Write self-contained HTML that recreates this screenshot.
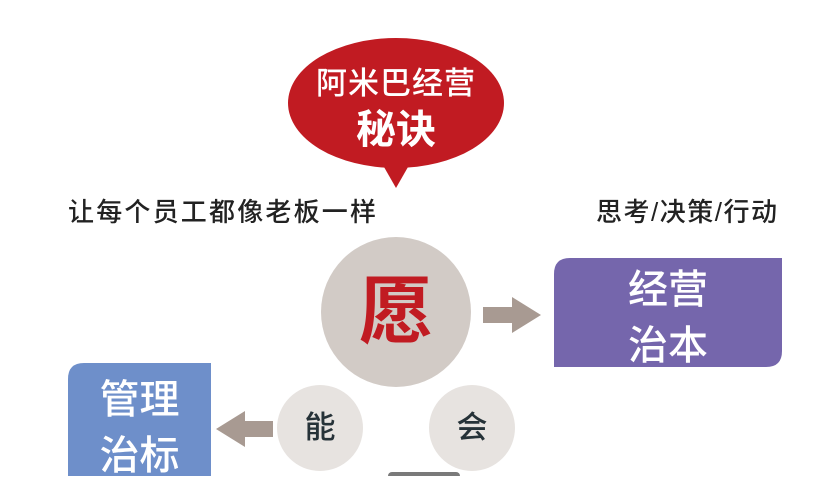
<!DOCTYPE html>
<html><head><meta charset="utf-8"><style>
html,body{margin:0;padding:0;background:#fff;}
body{width:819px;height:476px;position:relative;overflow:hidden;font-family:"Liberation Sans","Noto Sans CJK SC",sans-serif;}
.a{position:absolute;white-space:nowrap;}
</style></head><body>
<svg class="a" style="left:0;top:0" width="819" height="476">
<ellipse cx="396" cy="103" rx="108" ry="65" fill="#c11b22"/>
<polygon points="380,160 412,160 396,188" fill="#c11b22"/>
<circle cx="396" cy="312" r="75" fill="#d2cbc6"/>
<circle cx="320" cy="428" r="43" fill="#e7e3e0"/>
<circle cx="472" cy="428" r="43" fill="#e7e3e0"/>
<rect x="388" y="472" width="72" height="10" rx="4" fill="#7a7a7a"/>
<path d="M570,258 H782 V351 Q782,367 766,367 H554 V274 Q554,258 570,258 Z" fill="#7566ac"/>
<path d="M84,363 H211 V476 H68 V379 Q68,363 84,363 Z" fill="#6e8fca"/>
<polygon points="483,307 512,307 512,297 541,315 512,333 512,323 483,323" fill="#a89a92"/>
<polygon points="273,421 245,421 245,411 216,429 245,447 245,437 273,437" fill="#a89a92"/>
</svg>
<div class="a" style="left:288px;top:64px;width:216px;text-align:center;color:#fff;font-size:31px;line-height:40px;letter-spacing:1px;font-weight:500;">阿米巴经营</div>
<div class="a" style="left:288px;top:106px;width:216px;text-align:center;color:#fff;font-size:40px;line-height:48px;font-weight:bold;">秘诀</div>
<div class="a" style="left:68px;top:196px;color:#222;font-size:26px;line-height:32px;letter-spacing:2.2px;font-weight:500;">让每个员工都像老板一样</div>
<div class="a" style="left:596px;top:196px;color:#222;font-size:26px;line-height:32px;letter-spacing:1.5px;font-weight:500;">思考/决策/行动</div>
<div class="a" style="left:321px;top:272px;width:150px;text-align:center;color:#c11b22;font-size:74px;line-height:80px;font-weight:bold;">愿</div>
<div class="a" style="left:277px;top:410px;width:86px;text-align:center;color:#263238;font-size:31px;line-height:36px;font-weight:500;">能</div>
<div class="a" style="left:429px;top:410px;width:86px;text-align:center;color:#263238;font-size:31px;line-height:36px;font-weight:500;">会</div>
<div class="a" style="left:554px;top:262px;width:228px;text-align:center;color:#fff;font-size:40px;line-height:56px;font-weight:500;">经营<br>治本</div>
<div class="a" style="left:68px;top:372px;width:143px;text-align:center;color:#fff;font-size:40px;line-height:56px;font-weight:500;">管理<br>治标</div>
</body></html>
